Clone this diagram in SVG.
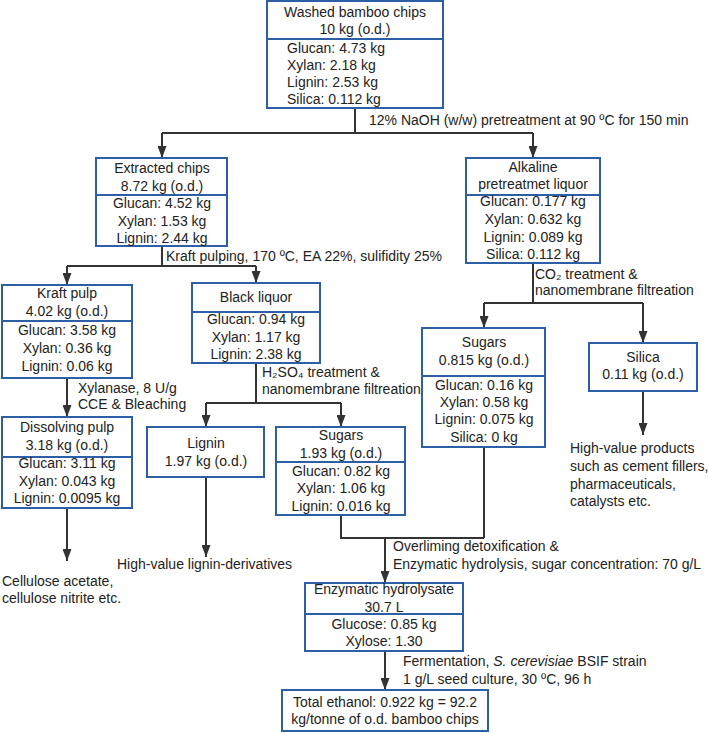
<svg xmlns="http://www.w3.org/2000/svg" width="709" height="733" viewBox="0 0 709 733">
<defs>
<style>
.b{fill:#fff;stroke:#2D5FA6;stroke-width:2}
.d{stroke:#2D5FA6;stroke-width:2}
.c{fill:none;stroke:#333;stroke-width:2}
text{font-family:"Liberation Sans",Arial,sans-serif;font-size:14px;fill:#222}
.m{text-anchor:middle}
</style>
<marker id="ah" markerUnits="userSpaceOnUse" markerWidth="9" markerHeight="12" refX="4.5" refY="12" orient="auto-start-reverse" viewBox="0 0 9 12">
<path d="M0,0 L9,0 L4.5,12 z" fill="#333"/>
</marker>
<marker id="a" markerUnits="userSpaceOnUse" markerWidth="12" markerHeight="9" refX="12" refY="4.5" orient="auto" viewBox="0 0 12 9">
<path d="M0,0 L12,4.5 L0,9 z" fill="#333"/>
</marker>
</defs>
<rect width="709" height="733" fill="#fff"/>

<g id="connectors">
<path class="c" d="M355,108 V133 M162,133 H533"/>
<path class="c" d="M162,133 V158" marker-end="url(#a)"/>
<path class="c" d="M533,133 V158" marker-end="url(#a)"/>
<path class="c" d="M162,246 V266 M67,266 H256"/>
<path class="c" d="M67,266 V285" marker-end="url(#a)"/>
<path class="c" d="M256,266 V283" marker-end="url(#a)"/>
<path class="c" d="M67,378 V417" marker-end="url(#a)"/>
<path class="c" d="M256,363 V403 M206,403 H341"/>
<path class="c" d="M206,403 V427" marker-end="url(#a)"/>
<path class="c" d="M341,403 V427" marker-end="url(#a)"/>
<path class="c" d="M533,263 V303 M484,303 H643"/>
<path class="c" d="M484,303 V328" marker-end="url(#a)"/>
<path class="c" d="M643,303 V343" marker-end="url(#a)"/>
<path class="c" d="M67,508 V561" marker-end="url(#a)"/>
<path class="c" d="M206,477 V557" marker-end="url(#a)"/>
<path class="c" d="M643,391 V435" marker-end="url(#a)"/>
<path class="c" d="M341,515 V538 H484 M484,447 V538"/>
<path class="c" d="M385,538 V583" marker-end="url(#a)"/>
<path class="c" d="M385,651 V690" marker-end="url(#a)"/>
<text x="369" y="125">12% NaOH (w/w) pretreatment at 90 ºC for 150 min</text>
<text x="166" y="261">Kraft pulping, 170 ºC, EA 22%, sulifidity 25%</text>
<text x="78" y="393">Xylanase, 8 U/g</text>
<text x="78" y="409">CCE &amp; Bleaching</text>
<text x="262" y="377">H₂SO₄ treatment &amp;</text>
<text x="262" y="394">nanomembrane filtreation</text>
<text x="535" y="279">CO₂ treatment &amp;</text>
<text x="535" y="295">nanomembrane filtreation</text>
<text x="2" y="586">Cellulose acetate,</text>
<text x="2" y="603">cellulose nitrite etc.</text>
<text x="117" y="569">High-value lignin-derivatives</text>
<text x="570" y="453">High-value products</text>
<text x="570" y="471">such as cement fillers,</text>
<text x="570" y="489">pharmaceuticals,</text>
<text x="570" y="506">catalysts etc.</text>
<text x="393" y="551">Overliming detoxification &amp;</text>
<text x="393" y="569">Enzymatic hydrolysis, sugar concentration: 70 g/L</text>
<text x="403" y="666">Fermentation, <tspan font-style="italic">S. cerevisiae</tspan> BSIF strain</text>
<text x="403" y="684">1 g/L seed culture, 30 ºC, 96 h</text>
</g>

<g id="washed">
<rect class="b" x="267" y="1" width="176" height="107"/>
<line class="d" x1="267" y1="39" x2="443" y2="39"/>
<text class="m" x="355" y="17">Washed bamboo chips</text>
<text class="m" x="355" y="34">10 kg (o.d.)</text>
<text x="287" y="53">Glucan: 4.73 kg</text>
<text x="287" y="70">Xylan: 2.18 kg</text>
<text x="287" y="87">Lignin: 2.53 kg</text>
<text x="287" y="104">Silica: 0.112 kg</text>
</g>

<g id="extracted">
<rect class="b" x="96" y="158" width="131" height="88"/>
<line class="d" x1="96" y1="195" x2="227" y2="195"/>
<text class="m" x="162" y="173">Extracted chips</text>
<text class="m" x="162" y="191">8.72 kg (o.d.)</text>
<text class="m" x="162" y="208">Glucan: 4.52 kg</text>
<text class="m" x="162" y="226">Xylan: 1.53 kg</text>
<text class="m" x="162" y="243">Lignin: 2.44 kg</text>
</g>

<g id="alkaline">
<rect class="b" x="466" y="158" width="134" height="105"/>
<line class="d" x1="466" y1="195" x2="600" y2="195"/>
<text class="m" x="533" y="172">Alkaline</text>
<text class="m" x="533" y="189">pretreatmet liquor</text>
<text class="m" x="533" y="206">Glucan: 0.177 kg</text>
<text class="m" x="533" y="224">Xylan: 0.632 kg</text>
<text class="m" x="533" y="242">Lignin: 0.089 kg</text>
<text class="m" x="533" y="259">Silica: 0.112 kg</text>
</g>

<g id="kraft">
<rect class="b" x="2" y="285" width="130" height="93"/>
<line class="d" x1="2" y1="321" x2="132" y2="321"/>
<text class="m" x="67" y="298">Kraft pulp</text>
<text class="m" x="67" y="316">4.02 kg (o.d.)</text>
<text class="m" x="67" y="335">Glucan: 3.58 kg</text>
<text class="m" x="67" y="353">Xylan: 0.36 kg</text>
<text class="m" x="67" y="371">Lignin: 0.06 kg</text>
</g>

<g id="black">
<rect class="b" x="192" y="283" width="128" height="80"/>
<line class="d" x1="192" y1="312" x2="320" y2="312"/>
<text class="m" x="256" y="302">Black liquor</text>
<text class="m" x="256" y="324">Glucan: 0.94 kg</text>
<text class="m" x="256" y="342">Xylan: 1.17 kg</text>
<text class="m" x="256" y="359">Lignin: 2.38 kg</text>
</g>

<g id="dissolving">
<rect class="b" x="2" y="417" width="130" height="91"/>
<line class="d" x1="2" y1="457" x2="132" y2="457"/>
<text class="m" x="67" y="432">Dissolving pulp</text>
<text class="m" x="67" y="450">3.18 kg (o.d.)</text>
<text class="m" x="67" y="468">Glucan: 3.11 kg</text>
<text class="m" x="67" y="486">Xylan: 0.043 kg</text>
<text class="m" x="67" y="503">Lignin: 0.0095 kg</text>
</g>

<g id="lignin">
<rect class="b" x="147" y="427" width="117" height="50"/>
<text class="m" x="206" y="448">Lignin</text>
<text class="m" x="206" y="466">1.97 kg (o.d.)</text>
</g>

<g id="sugars1">
<rect class="b" x="276" y="427" width="129" height="88"/>
<line class="d" x1="276" y1="462" x2="405" y2="462"/>
<text class="m" x="341" y="440">Sugars</text>
<text class="m" x="341" y="458">1.93 kg (o.d.)</text>
<text class="m" x="341" y="476">Glucan: 0.82 kg</text>
<text class="m" x="341" y="493">Xylan: 1.06 kg</text>
<text class="m" x="341" y="511">Lignin: 0.016 kg</text>
</g>

<g id="sugars2">
<rect class="b" x="422" y="328" width="123" height="119"/>
<line class="d" x1="422" y1="376" x2="545" y2="376"/>
<text class="m" x="484" y="347">Sugars</text>
<text class="m" x="484" y="365">0.815 kg (o.d.)</text>
<text class="m" x="484" y="390">Glucan: 0.16 kg</text>
<text class="m" x="484" y="407">Xylan: 0.58 kg</text>
<text class="m" x="484" y="424">Lignin: 0.075 kg</text>
<text class="m" x="484" y="442">Silica: 0 kg</text>
</g>

<g id="silica">
<rect class="b" x="589" y="343" width="108" height="48"/>
<text class="m" x="643" y="362">Silica</text>
<text class="m" x="643" y="379">0.11 kg (o.d.)</text>
</g>

<g id="hydrolysate">
<rect class="b" x="305" y="583" width="158" height="68"/>
<line class="d" x1="305" y1="614" x2="463" y2="614"/>
<text class="m" x="384" y="594">Enzymatic hydrolysate</text>
<text class="m" x="384" y="612">30.7 L</text>
<text class="m" x="384" y="629">Glucose: 0.85 kg</text>
<text class="m" x="384" y="646">Xylose: 1.30</text>
</g>

<g id="ethanol">
<rect class="b" x="282" y="690" width="206" height="41"/>
<text class="m" x="385" y="707">Total ethanol: 0.922 kg = 92.2</text>
<text class="m" x="385" y="724">kg/tonne of o.d. bamboo chips</text>
</g>
</svg>
